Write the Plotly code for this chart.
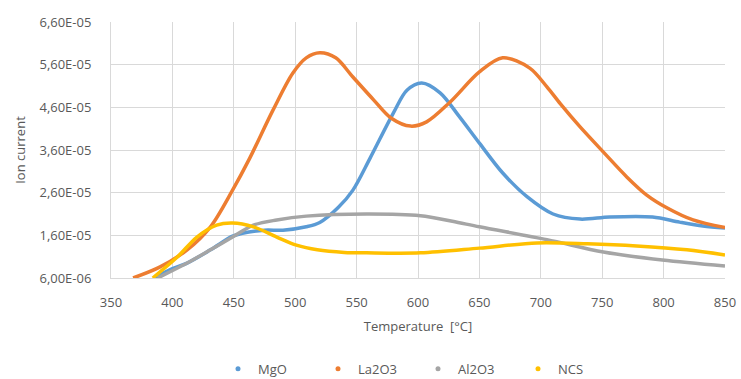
import plotly.graph_objects as go

# ---- data ----
mgo_t = [385, 400, 412, 431, 449, 457, 475, 490, 509, 520, 535, 547, 561, 580, 591, 603, 618, 634, 650, 669, 689, 710, 732, 756, 791, 813, 832, 850]
mgo_v = [6.0e-6, 8.2e-6, 9.5e-6, 1.26e-5, 1.58e-5, 1.65e-5, 1.72e-5, 1.72e-5, 1.8e-5, 1.9e-5, 2.25e-5, 2.66e-5, 3.41e-5, 4.47e-5, 5.0e-5, 5.17e-5, 4.94e-5, 4.37e-5, 3.76e-5, 3.06e-5, 2.5e-5, 2.1e-5, 1.98e-5, 2.03e-5, 2.03e-5, 1.91e-5, 1.82e-5, 1.77e-5]

la_t = [368, 390, 412, 431, 449, 463, 482, 498, 509, 520, 533, 547, 564, 578, 594, 607, 626, 650, 669, 691, 705, 716, 732, 751, 770, 786, 803, 824, 850]
la_v = [6.0e-6, 8.6e-6, 1.26e-5, 1.8e-5, 2.66e-5, 3.41e-5, 4.54e-5, 5.4e-5, 5.76e-5, 5.88e-5, 5.76e-5, 5.31e-5, 4.77e-5, 4.35e-5, 4.16e-5, 4.26e-5, 4.72e-5, 5.43e-5, 5.76e-5, 5.52e-5, 5.08e-5, 4.68e-5, 4.14e-5, 3.55e-5, 2.97e-5, 2.55e-5, 2.24e-5, 1.96e-5, 1.78e-5]

al_t = [388, 412, 431, 449, 466, 485, 509, 558, 602, 628, 650, 705, 751, 799, 850]
al_v = [6.0e-6, 9.5e-6, 1.26e-5, 1.56e-5, 1.84e-5, 1.96e-5, 2.05e-5, 2.1e-5, 2.06e-5, 1.93e-5, 1.8e-5, 1.5e-5, 1.21e-5, 1.02e-5, 8.8e-6]

ncs_t = [384, 404, 420, 436, 449, 466, 485, 501, 518, 540, 558, 602, 650, 697, 738, 778, 819, 850]
ncs_v = [6.0e-6, 1.09e-5, 1.56e-5, 1.84e-5, 1.89e-5, 1.8e-5, 1.56e-5, 1.37e-5, 1.26e-5, 1.2e-5, 1.19e-5, 1.19e-5, 1.3e-5, 1.42e-5, 1.4e-5, 1.35e-5, 1.26e-5, 1.14e-5]

series_names = ["MgO", "La2O3", "Al2O3", "NCS"]
series_colors = ["#5B9BD5", "#ED7D31", "#A5A5A5", "#FFC000"]

x_ticks = [350, 400, 450, 500, 550, 600, 650, 700, 750, 800, 850]
y_tickvals = [6.0e-6, 1.6e-5, 2.6e-5, 3.6e-5, 4.6e-5, 5.6e-5, 6.6e-5]
y_ticktext = ["6,00E-06", "1,60E-05", "2,60E-05", "3,60E-05", "4,60E-05", "5,60E-05", "6,60E-05"]

FONT = "Open Sans"
TXT = "#595959"

fig = go.Figure()
data = [(mgo_t, mgo_v), (la_t, la_v), (al_t, al_v), (ncs_t, ncs_v)]
for (t, v), name, col in zip(data, series_names, series_colors):
    fig.add_trace(go.Scatter(x=t, y=v, mode="lines", name=name,
                             line=dict(color=col, width=3.5, shape="spline", smoothing=0.9),
                             showlegend=False, hoverinfo="skip"))
for name, col in zip(series_names, series_colors):
    fig.add_trace(go.Scatter(x=[None], y=[None], mode="markers", name=name,
                             marker=dict(color=col, size=5)))

fig.update_layout(
    width=741, height=379,
    margin=dict(l=111, r=16, t=22, b=101, autoexpand=False),
    paper_bgcolor="white", plot_bgcolor="white",
    font=dict(family=FONT, size=13, color=TXT),
    showlegend=True,
    legend=dict(orientation="h", x=0.5, xanchor="center",
                y=-0.355, yanchor="middle",
                font=dict(size=13, color=TXT), entrywidth=55, entrywidthmode="pixels",
                itemwidth=30),
    xaxis=dict(range=[350, 850], tickvals=x_ticks, showgrid=True, gridcolor="#D9D9D9",
               gridwidth=1, zeroline=False, showline=True, linecolor="#D9D9D9",
               ticks="", ticklabelstandoff=12, tickfont=dict(size=13, color=TXT),
               title=dict(text="Temperature  [°C]", font=dict(size=13, color=TXT), standoff=12)),
    yaxis=dict(range=[6.0e-6, 6.6e-5], tickvals=y_tickvals, ticktext=y_ticktext,
               showgrid=True, gridcolor="#D9D9D9", gridwidth=1, zeroline=False,
               showline=True, linecolor="#D9D9D9", ticks="", ticklabelstandoff=16,
               tickfont=dict(size=13, color=TXT),
               title=dict(text="Ion current", font=dict(size=13, color=TXT), standoff=10)),
)

fig.write_html("out.html")
